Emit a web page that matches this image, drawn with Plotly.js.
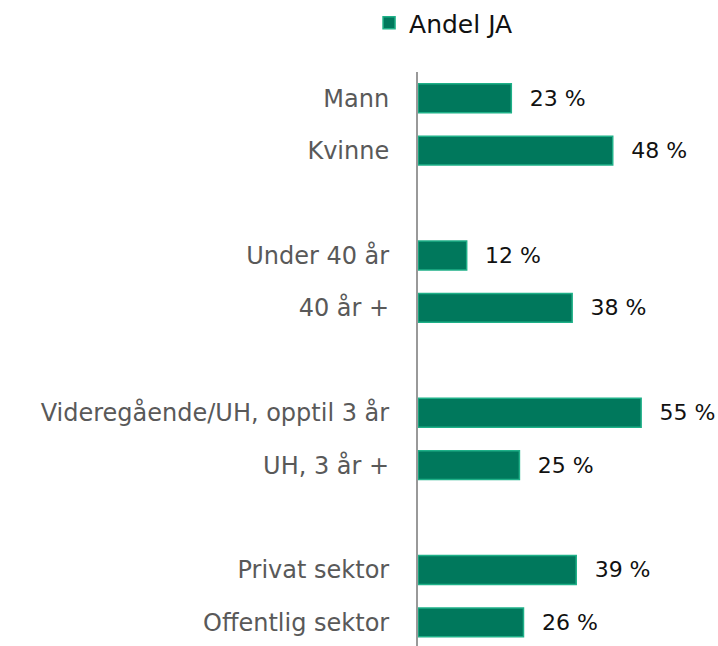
<!DOCTYPE html>
<html>
<head>
<meta charset="utf-8">
<script src="https://cdn.plot.ly/plotly-3.0.1.min.js"></script>
<style>html,body{margin:0;padding:0;background:#fff;}#chart{width:718px;height:646px;}</style>
</head>
<body>
<div id="chart"></div>
<script>
var categories = ["Mann", "Kvinne", " ", "Under 40 år", "40 år +", "  ", "Videregående/UH, opptil 3 år", "UH, 3 år +", "   ", "Privat sektor", "Offentlig sektor"];
var andelJA = [23, 48, null, 12, 38, null, 55, 25, null, 39, 26];
var seriesName = "Andel JA";

var FONT = "DejaVu Sans, sans-serif";
var trace = {
  type: "bar",
  orientation: "h",
  name: seriesName,
  y: categories,
  x: andelJA,
  marker: {color: "#00785C", line: {color: "#1FB088", width: 1.5}},
  texttemplate: "\u2002\u2009%{x} %",
  textposition: "outside",
  cliponaxis: false,
  textfont: {family: FONT, size: 22, color: "#111"},
  hoverinfo: "skip",
  showlegend: true
};
var layout = {
  width: 718, height: 646,
  margin: {l: 418, r: 16, t: 72, b: 0},
  paper_bgcolor: "#fff", plot_bgcolor: "#fff",
  bargap: 0.45,
  showlegend: true,
  legend: {orientation: "h", xref: "container", yref: "container", x: 0.514, xanchor: "left", y: 1, yanchor: "top",
           font: {family: FONT, size: 25, color: "#111"}},
  xaxis: {range: [0, 70], showgrid: false, zeroline: false, showticklabels: false, showline: false, fixedrange: true},
  yaxis: {type: "category", range: [10.45, -0.5], showgrid: false, zeroline: false, showline: true, linecolor: "#999999", linewidth: 2,
          ticks: "", ticklabelstandoff: 22, tickfont: {family: FONT, size: 24, color: "#595959"}, fixedrange: true}
};
Plotly.newPlot("chart", [trace], layout, {displayModeBar: false, staticPlot: true});
</script>
</body>
</html>
